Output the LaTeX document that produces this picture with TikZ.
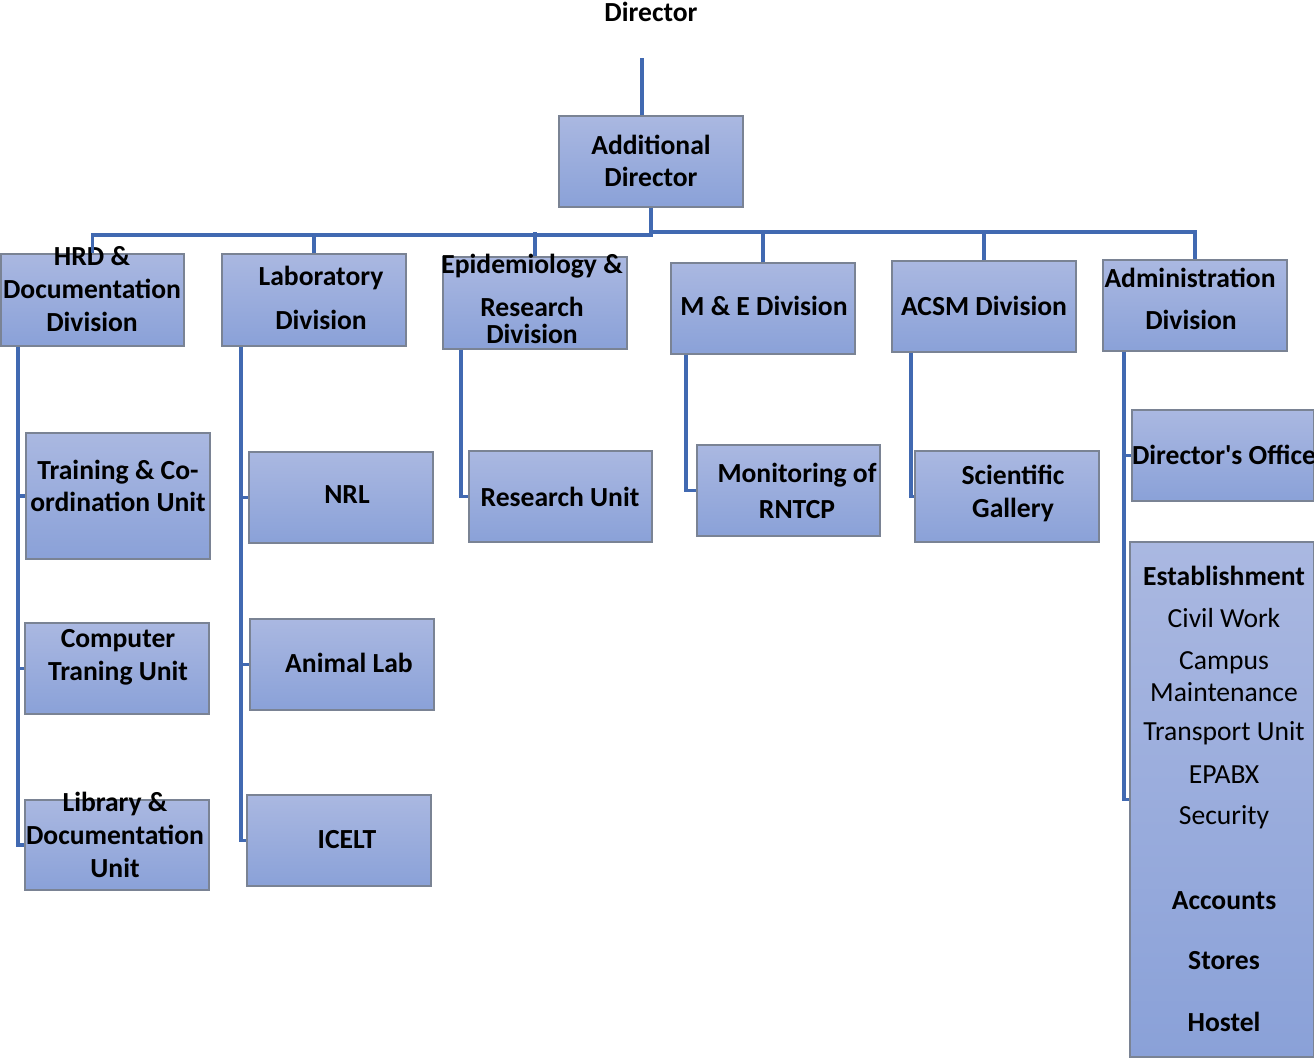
\documentclass[tikz,border=0pt]{standalone}
\usepackage{fontspec}
\setmainfont{Carlito}[Ligatures=TeXOff]
\usetikzlibrary{fit}
\definecolor{ln}{HTML}{4169B1}
\definecolor{bd}{HTML}{7A8394}
\definecolor{topc}{HTML}{AAB8E1}
\definecolor{botc}{HTML}{8AA1D8}
\tikzset{
 box/.style={draw=bd, line width=0.8pt, top color=topc, bottom color=botc, inner sep=0pt, rectangle},
 conn/.style={draw=ln, line width=2.4pt},
 tb/.style={font=\fontsize{20.7}{24.5}\selectfont\bfseries, align=center, inner sep=0pt, text=black},
 tr/.style={font=\fontsize{20.7}{24.5}\selectfont, align=center, inner sep=0pt, text=black},
}
\begin{document}
\begin{tikzpicture}[x=0.75pt,y=-0.75pt]
\useasboundingbox (0,0) rectangle (1314,1057);
% boxes
\node[box, fit={(559,116)(743,207)}] (ad) {};
\node[box, fit={(1,254)(184,346)}] (hrd) {};
\node[box, fit={(222,254)(406,346)}] (lab) {};
\node[box, fit={(443,257)(627,349)}] (epi) {};
\node[box, fit={(671,263)(855,354)}] (me) {};
\node[box, fit={(892,261)(1076,352)}] (acsm) {};
\node[box, fit={(1103,260)(1287,351)}] (adm) {};
\node[box, fit={(26,433)(210,559)}] (train) {};
\node[box, fit={(25,623)(209,714)}] (comp) {};
\node[box, fit={(25,800)(209,890)}] (lib) {};
\node[box, fit={(249,452)(433,543)}] (nrl) {};
\node[box, fit={(250,619)(434,710)}] (animal) {};
\node[box, fit={(247,795)(431,886)}] (icelt) {};
\node[box, fit={(469,451)(652,542)}] (research) {};
\node[box, fit={(697,445)(880,536)}] (monit) {};
\node[box, fit={(915,451)(1099,542)}] (sci) {};
\node[box, fit={(1132,410)(1314,501)}] (doff) {};
\node[box, fit={(1130,542)(1314,1057)}] (estab) {};
% texts
\node[tb] (dir) at (651,12) {Director};
\node[tb] at (651,161) {Additional\\Director};
\node[tb] at (92,289) {HRD \&\\Documentation\\Division};
\node[tb] at (321,278) {Laboratory};
\node[tb] at (321,320) {Division};
\node[tb] at (532,266) {Epidemiology \&};
\node[tb] at (532,307) {Research};
\node[tb] at (532,334) {Division};
\node[tb] at (764,306) {M \& E Division};
\node[tb] at (984,306) {ACSM Division};
\node[tb] at (1190,278) {Administration};
\node[tb] at (1191,320) {Division};
\node[tb] at (118,486) {Training \& Co-\\ordination Unit};
\node[tb] at (118,657) {Computer\\Traning Unit};
\node[tb] at (115,835) {Library \&\\Documentation\\Unit};
\node[tb] at (347,495) {NRL};
\node[tb] at (349,663) {Animal Lab};
\node[tb] at (347,840) {ICELT};
\node[tb] at (560,497) {Research Unit};
\node[tb] at (797,475) {Monitoring of};
\node[tb] at (797,510) {RNTCP};
\node[tb] at (1013,475) {Scientific};
\node[tb] at (1013,510) {Gallery};
\node[tb] at (1224,455) {Director's Office};
\node[tb] at (1224,576) {Establishment};
\node[tr] at (1224,618) {Civil Work};
\node[tr] at (1224,663) {Campus};
\node[tr] at (1224,692) {Maintenance};
\node[tr] at (1224,733) {Transport Unit};
\node[tr] at (1224,775) {EPABX};
\node[tr] at (1224,817) {Security};
\node[tb] at (1224,901) {Accounts};
\node[tb] at (1224,961) {Stores};
\node[tb] at (1224,1022) {Hostel};
% connectors
\coordinate (dtop) at (642,58);
\draw[conn, line width=2.8pt] (dtop) -- (dtop |- ad.north);
\coordinate (busL) at (92,235);
\coordinate (busR) at (1195,232);
\draw[conn] (hrd.north) -- (hrd.north |- busL) -- (ad.south |- busL) -- (ad.south);
\draw[conn] (lab.north) -- (lab.north |- busL);
\draw[conn] (ad.south |- busR) -- (busR) -- (adm.north);
\draw[conn] (epi.north) -- (epi.north |- busR);
\draw[conn] (me.north) -- (me.north |- busR);
\draw[conn] (acsm.north) -- (acsm.north |- busR);
% branches
\coordinate (hv) at (18,0);
\coordinate (lv) at (241,0);
\coordinate (ev) at (461,0);
\coordinate (mv) at (686,0);
\coordinate (av) at (911,0);
\coordinate (dv) at (1124,0);
\draw[conn] (hrd.south -| hv) -- (lib.west -| hv) -- (lib.west);
\draw[conn] (train.west -| hv) -- (train.west);
\draw[conn] (comp.west -| hv) -- (comp.west);
\draw[conn] (lab.south -| lv) -- (icelt.west -| lv) -- (icelt.west);
\draw[conn] (nrl.west -| lv) -- (nrl.west);
\draw[conn] (animal.west -| lv) -- (animal.west);
\draw[conn] (epi.south -| ev) -- (research.west -| ev) -- (research.west);
\draw[conn] (me.south -| mv) -- (monit.west -| mv) -- (monit.west);
\draw[conn] (acsm.south -| av) -- (sci.west -| av) -- (sci.west);
\draw[conn] (adm.south -| dv) -- (estab.west -| dv) -- (estab.west);
\draw[conn] (doff.west -| dv) -- (doff.west);
\end{tikzpicture}
\end{document}
